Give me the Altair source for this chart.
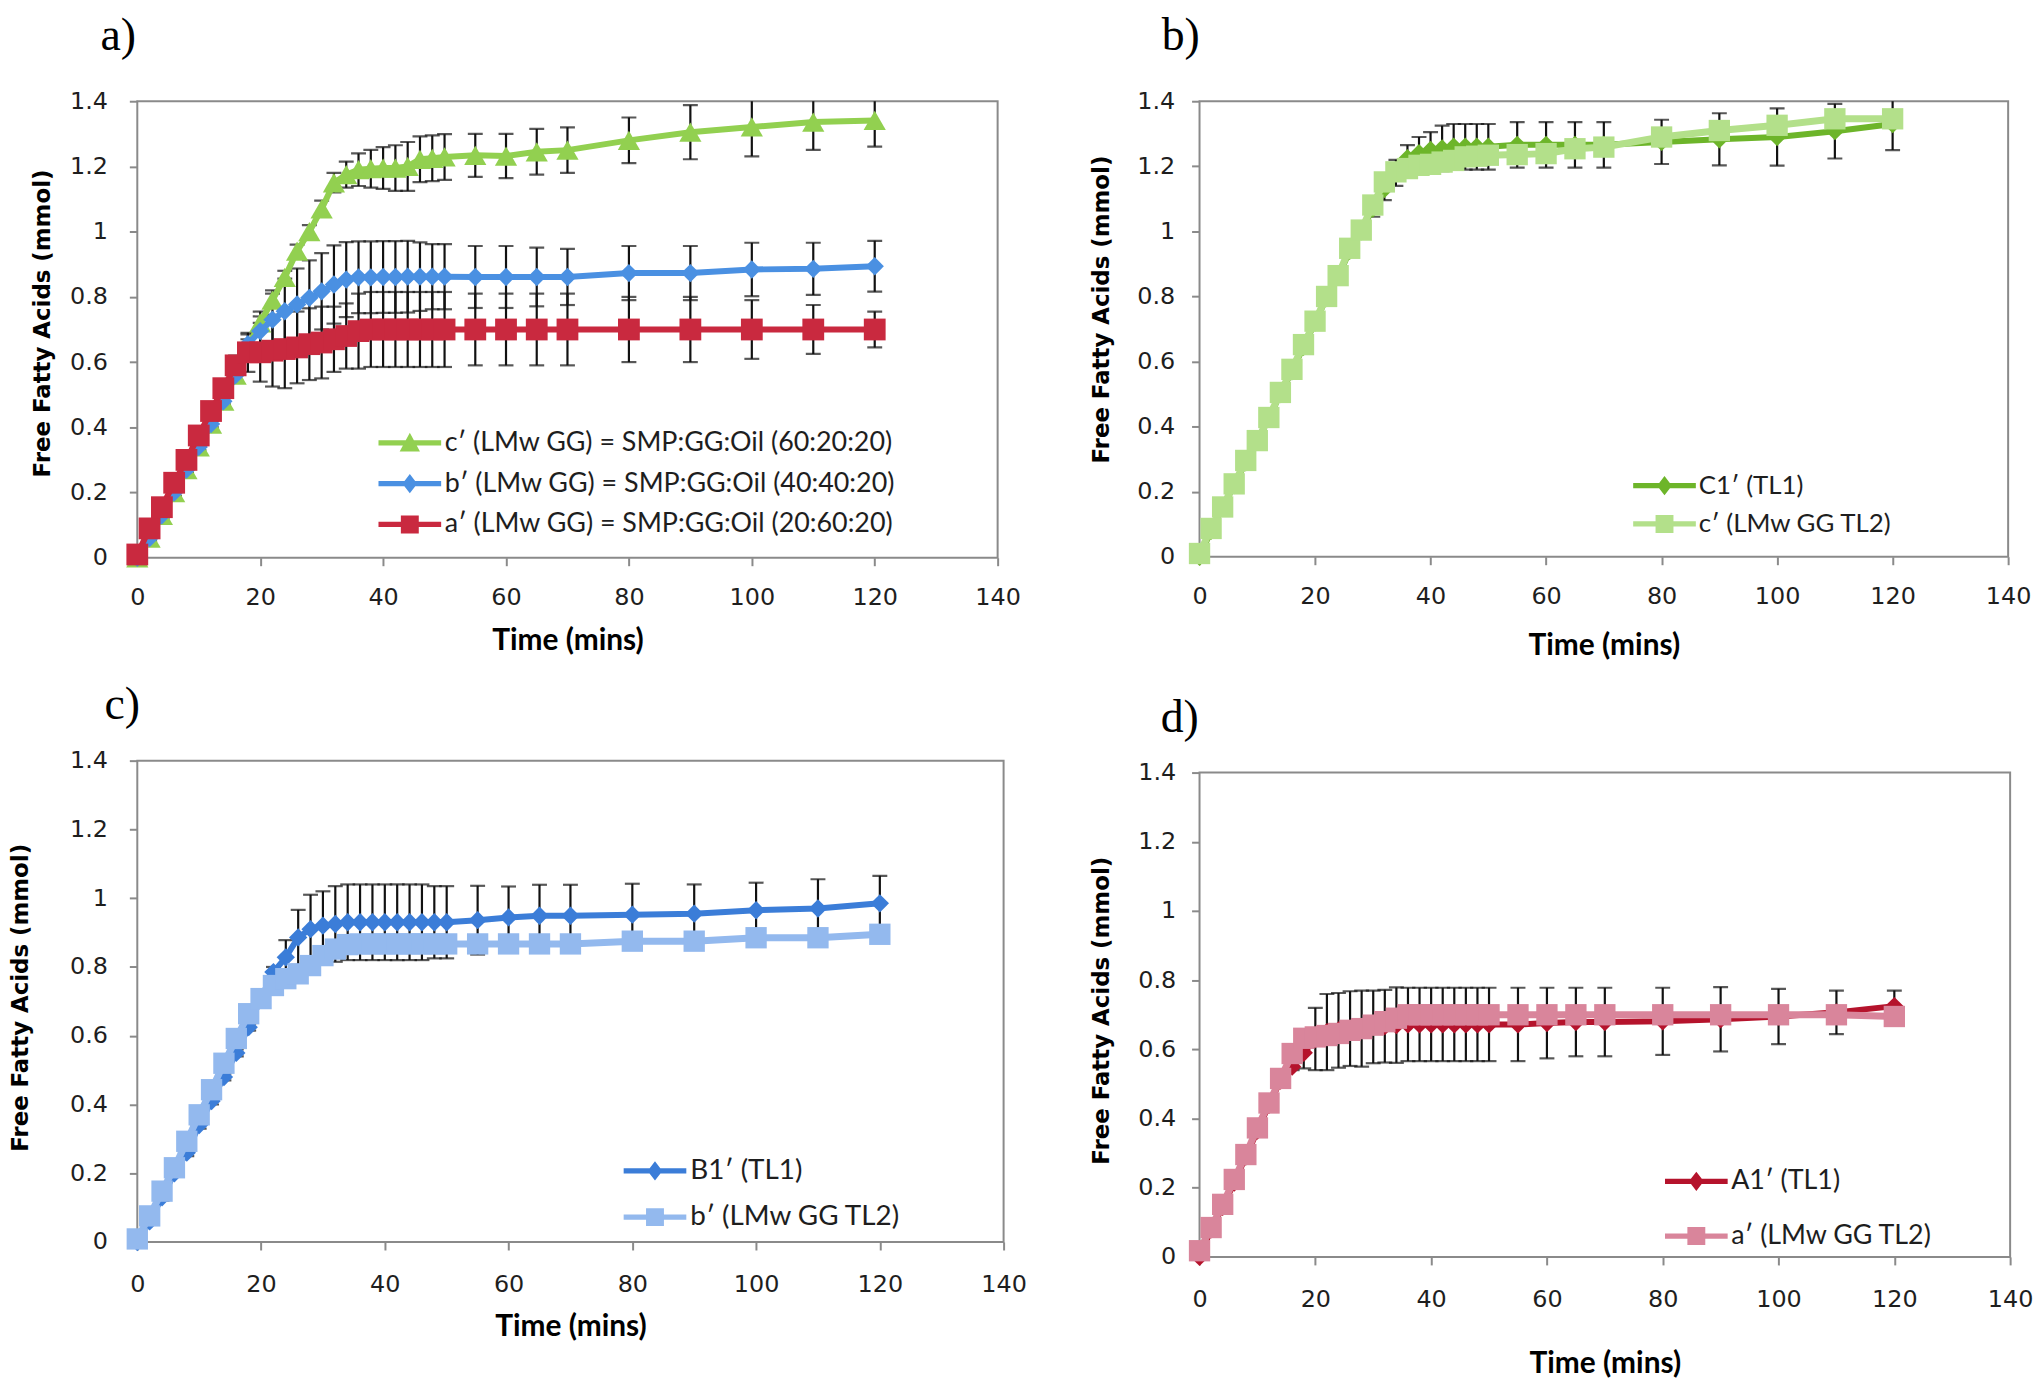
import altair as alt
import pandas as pd

# ---------------- shared axis data ----------------
TIME = [0, 2, 4, 6, 8, 10, 12, 14, 16, 18, 20, 22, 24, 26, 28, 30, 32, 34,
        36, 38, 40, 42, 44, 46, 48, 50, 55, 60, 65, 70, 80, 90, 100, 110, 120]
X_TICKS = [0, 20, 40, 60, 80, 100, 120, 140]
Y_TICKS = [0, 0.2, 0.4, 0.6, 0.8, 1.0, 1.2, 1.4]
X_DOMAIN = [0, 140]
Y_DOMAIN = [0, 1.4]
X_TITLE = "Time  (mins)"
Y_TITLE = "Free Fatty Acids  (mmol)"

# ---------------- panel a) ----------------
A_LABEL = "a)"
A_NAMES = ["c′ (LMw GG) = SMP:GG:Oil (60:20:20)",
           "b′ (LMw GG) = SMP:GG:Oil (40:40:20)",
           "a′ (LMw GG) = SMP:GG:Oil (20:60:20)"]
A_C = [0.00, 0.06, 0.13, 0.20, 0.27, 0.34, 0.41, 0.48, 0.56,
       0.65, 0.72, 0.79, 0.86, 0.94, 1.00, 1.07, 1.15, 1.175,
       1.19, 1.193, 1.195, 1.195, 1.20, 1.222, 1.225, 1.229,
       1.234, 1.232, 1.245, 1.25,
       1.28, 1.305, 1.321, 1.336, 1.341]
A_C_ERR = [0.005, 0.01, 0.01, 0.01, 0.01, 0.01, 0.01, 0.01, 0.015,
           0.02, 0.02, 0.02, 0.02, 0.02, 0.02, 0.025, 0.03, 0.04,
           0.05, 0.058, 0.064, 0.07, 0.075, 0.07, 0.07, 0.07,
           0.066, 0.068, 0.07, 0.07,
           0.07, 0.083, 0.09, 0.085, 0.08]
A_B = [0.00, 0.06, 0.13, 0.20, 0.27, 0.34, 0.41, 0.48, 0.56,
       0.655, 0.695, 0.73, 0.756, 0.777, 0.797, 0.817, 0.838, 0.853,
       0.86, 0.86, 0.861, 0.861, 0.862, 0.862, 0.862, 0.862,
       0.861, 0.861, 0.861, 0.861,
       0.873, 0.873, 0.884, 0.886, 0.894]
A_B_ERR = [0.005, 0.01, 0.01, 0.01, 0.01, 0.01, 0.01, 0.01, 0.02,
           0.03, 0.06, 0.09, 0.10, 0.11, 0.115, 0.117, 0.12, 0.115,
           0.11, 0.11, 0.11, 0.11, 0.11, 0.105, 0.10, 0.10,
           0.095, 0.095, 0.09, 0.086,
           0.083, 0.083, 0.082, 0.08, 0.078]
A_A = [0.01, 0.09, 0.155, 0.23, 0.30, 0.375, 0.45, 0.52, 0.59,
       0.63, 0.63, 0.635, 0.64, 0.645, 0.655, 0.66, 0.67, 0.68,
       0.695, 0.70, 0.70, 0.70, 0.70, 0.70, 0.70, 0.70,
       0.70, 0.70, 0.70, 0.70,
       0.70, 0.70, 0.70, 0.70, 0.70]
A_A_ERR = [0.005, 0.01, 0.01, 0.01, 0.01, 0.01, 0.01, 0.01, 0.03,
           0.06, 0.09, 0.11, 0.12, 0.11, 0.11, 0.11, 0.10, 0.10,
           0.115, 0.115, 0.115, 0.115, 0.115, 0.115, 0.115, 0.115,
           0.11, 0.11, 0.11, 0.11,
           0.10, 0.10, 0.09, 0.075, 0.055]

# ---------------- panel b) ----------------
B_LABEL = "b)"
B_NAMES = ["C1′ (TL1)", "c′ (LMw GG TL2)"]
B_C1 = [0.00, 0.08, 0.15, 0.22, 0.29, 0.355, 0.425, 0.50, 0.57,
        0.645, 0.72, 0.795, 0.86, 0.94, 1.00, 1.07, 1.13, 1.18,
        1.225, 1.24, 1.25, 1.255, 1.26, 1.26, 1.26, 1.26,
        1.266, 1.266, 1.266, 1.266,
        1.275, 1.283, 1.29, 1.308, 1.33]
B_C1_ERR = [0.005, 0.01, 0.01, 0.01, 0.01, 0.01, 0.01, 0.01, 0.01,
            0.01, 0.01, 0.01, 0.01, 0.015, 0.02, 0.025, 0.034, 0.04,
            0.04, 0.05, 0.055, 0.07, 0.07, 0.07, 0.07, 0.07,
            0.07, 0.07, 0.07, 0.07,
            0.068, 0.08, 0.088, 0.084, 0.08]
B_C2 = [0.01, 0.087, 0.153, 0.224, 0.296, 0.357, 0.428, 0.505, 0.576,
        0.652, 0.724, 0.80, 0.864, 0.948, 1.004, 1.081, 1.152, 1.183,
        1.193, 1.203, 1.206, 1.213, 1.218, 1.229, 1.231, 1.234,
        1.236, 1.239, 1.254, 1.259,
        1.29, 1.31, 1.326, 1.346, 1.346]

# ---------------- panel c) ----------------
C_LABEL = "c)"
C_NAMES = ["B1′ (TL1)", "b′ (LMw GG TL2)"]
C_B1 = [0.00, 0.06, 0.13, 0.20, 0.26, 0.34, 0.41, 0.48, 0.55,
        0.625, 0.71, 0.785, 0.828, 0.886, 0.91, 0.92, 0.925, 0.93,
        0.93, 0.93, 0.93, 0.93, 0.93, 0.93, 0.93, 0.93,
        0.936, 0.944, 0.949, 0.949,
        0.952, 0.955, 0.965, 0.97, 0.985]
C_B1_ERR = [0.005, 0.01, 0.01, 0.01, 0.01, 0.01, 0.01, 0.01, 0.01,
            0.01, 0.01, 0.015, 0.05, 0.08, 0.10, 0.10, 0.11, 0.11,
            0.11, 0.11, 0.11, 0.11, 0.11, 0.11, 0.105, 0.105,
            0.10, 0.09, 0.09, 0.09,
            0.09, 0.085, 0.08, 0.085, 0.08]
C_B2 = [0.009, 0.076, 0.148, 0.216, 0.293, 0.37, 0.443, 0.52, 0.592,
        0.664, 0.708, 0.746, 0.766, 0.78, 0.804, 0.833, 0.852, 0.865,
        0.867, 0.867, 0.867, 0.867, 0.867, 0.867, 0.867, 0.867,
        0.867, 0.867, 0.867, 0.867,
        0.875, 0.875, 0.885, 0.885, 0.895]

# ---------------- panel d) ----------------
D_LABEL = "d)"
D_NAMES = ["A1′ (TL1)", "a′ (LMw GG TL2)"]
D_A1 = [0.00, 0.08, 0.145, 0.215, 0.29, 0.365, 0.44, 0.51, 0.55,
        0.59, 0.63, 0.65, 0.655, 0.66, 0.66, 0.665, 0.667, 0.67,
        0.672, 0.672, 0.672, 0.672, 0.672, 0.672, 0.672, 0.672,
        0.672, 0.676, 0.679, 0.679,
        0.681, 0.687, 0.695, 0.707, 0.725]
D_A1_ERR = [0.005, 0.01, 0.01, 0.01, 0.01, 0.01, 0.01, 0.01, 0.01,
            0.045, 0.09, 0.11, 0.108, 0.108, 0.11, 0.105, 0.105, 0.109,
            0.106, 0.106, 0.106, 0.106, 0.106, 0.106, 0.106, 0.106,
            0.106, 0.102, 0.099, 0.099,
            0.097, 0.093, 0.08, 0.063, 0.045]
D_A2 = [0.018, 0.085, 0.152, 0.224, 0.296, 0.373, 0.445, 0.516, 0.588,
        0.632, 0.636, 0.64, 0.646, 0.655, 0.66, 0.67, 0.68, 0.69,
        0.70, 0.70, 0.70, 0.70, 0.70, 0.70, 0.70, 0.70,
        0.70, 0.70, 0.70, 0.70,
        0.70, 0.70, 0.70, 0.70, 0.695]

# ---------------- styles ----------------
GRAY = "#8a8a8a"
TXT = "#1e1e1e"
BAR = "#111111"
SANS = "Lato"
TICKFONT = "DejaVu Sans"
LINE_P = "M-2.625,-0.22H2.625V0.22H-2.625Z"
TRI_P = LINE_P + " M0,-0.85L0.85,0.72H-0.85Z"
DIA_P = LINE_P + " M0,-0.8L0.62,0L0,0.8L-0.62,0Z"
SQR_P = LINE_P + " M-0.75,-0.75H0.75V0.75H-0.75Z"


def ser(values, err, color, shape, size, lw):
    return dict(v=values, err=err, color=color, shape=shape, size=size, lw=lw)


def panel(label, label_dx, label_off, series, names, colors, paths, w, h,
          ytx, yty, xty, xpad, ypad, lx, ly, lfs, lrow):
    xaxis = alt.Axis(values=X_TICKS, format="d", labelFlush=False, labelOverlap=False,
                     grid=False, domain=False, tickSize=8, tickWidth=2, tickColor=GRAY,
                     labelFont=TICKFONT, labelFontSize=24, labelColor=TXT, labelPadding=xpad,
                     title=X_TITLE, titleFont=SANS, titleFontSize=30, titleFontWeight="bold",
                     titleColor="#000000", titleY=xty, titleBaseline="middle")
    yaxis = alt.Axis(values=Y_TICKS, format="~g", labelFlush=False, labelOverlap=False,
                     grid=False, domain=False, tickSize=8, tickWidth=2, tickColor=GRAY,
                     labelFont=TICKFONT, labelFontSize=24, labelColor=TXT, labelPadding=ypad,
                     title=Y_TITLE, titleFont="DejaVu Sans", titleFontSize=23,
                     titleFontWeight="bold", titleColor="#000000", titleX=ytx, titleY=yty,
                     titleBaseline="middle")
    xs = alt.Scale(domain=X_DOMAIN, nice=False, zero=False)
    ys = alt.Scale(domain=Y_DOMAIN, nice=False)

    def X(f):
        return alt.X(f, type="quantitative", scale=xs, axis=xaxis)

    def Y(f):
        return alt.Y(f, type="quantitative", scale=ys, axis=yaxis)

    layers = []
    for s in series:
        if s["err"] is None:
            continue
        df = pd.DataFrame({"t": TIME,
                           "lo": [v - e for v, e in zip(s["v"], s["err"])],
                           "hi": [v + e for v, e in zip(s["v"], s["err"])]})
        base = alt.Chart(df)
        layers.append(base.mark_rule(color=BAR, strokeWidth=2.2, clip=True)
                      .encode(x=X("t"), y=Y("lo"), y2="hi"))
        layers.append(base.mark_tick(orient="horizontal", size=15, thickness=2.2,
                                     color=BAR, clip=True)
                      .encode(x=X("t"), y=Y("lo")))
        layers.append(base.mark_tick(orient="horizontal", size=15, thickness=2.2,
                                     color=BAR, clip=True)
                      .encode(x=X("t"), y=Y("hi")))
    for s in series:
        df = pd.DataFrame({"t": TIME, "v": s["v"]})
        base = alt.Chart(df)
        layers.append(base.mark_line(color=s["color"], strokeWidth=s["lw"])
                      .encode(x=X("t"), y=Y("v")))
        layers.append(base.mark_point(filled=True, shape=s["shape"], size=s["size"],
                                      color=s["color"], opacity=1, strokeWidth=0)
                      .encode(x=X("t"), y=Y("v")))

    leg = alt.Legend(orient="none", legendX=lx, legendY=ly, title=None,
                     symbolSize=576, symbolStrokeWidth=0, symbolOpacity=1,
                     labelFont=SANS, labelFontSize=lfs, labelColor=TXT,
                     labelOffset=21.5, rowPadding=lrow, padding=0, labelLimit=0,
                     direction="vertical")
    ldf = pd.DataFrame({"series": names})
    layers.append(alt.Chart(ldf).mark_point(filled=True, size=0, strokeWidth=0)
                  .encode(x=alt.value(5), y=alt.value(5),
                          color=alt.Color("series:N", scale=alt.Scale(domain=names, range=colors),
                                          legend=leg),
                          shape=alt.Shape("series:N", scale=alt.Scale(domain=names, range=paths),
                                          legend=leg)))
    title = alt.TitleParams(text=label, anchor="start", frame="group",
                            font="Liberation Serif", fontSize=46, fontWeight="normal",
                            color="#000000", dx=label_dx, offset=label_off,
                            baseline="alphabetic")
    return alt.layer(*layers).properties(width=w, height=h, title=title)


GREEN, BLUE, RED = "#92d050", "#4a90e2", "#c9293f"
pa = panel(A_LABEL, -37, -6,
           [ser(A_C, A_C_ERR, GREEN, "triangle-up", 500, 6),
            ser(A_B, A_B_ERR, BLUE, "diamond", 340, 6),
            ser(A_A, A_A_ERR, RED, "square", 480, 6)],
           A_NAMES, [GREEN, BLUE, RED], [TRI_P, DIA_P, SQR_P],
           865, 459, -95, 223, 83, 20, 22, 260.5, 330, 27, 13)

DKG, LTG = "#6db52a", "#b3e08a"
pb = panel(B_LABEL, -38, -6,
           [ser(B_C1, B_C1_ERR, DKG, "diamond", 340, 6),
            ser(B_C2, None, LTG, "square", 460, 7)],
           B_NAMES, [DKG, LTG], [DIA_P, SQR_P],
           813, 458, -99, 209, 89, 20, 17, 454.5, 373.5, 26, 12.5)

DKB, LTB = "#3b7dd8", "#93b9ee"
pc = panel(C_LABEL, -33, -16,
           [ser(C_B1, C_B1_ERR, DKB, "diamond", 340, 6),
            ser(C_B2, None, LTB, "square", 460, 7)],
           C_NAMES, [DKB, LTB], [DIA_P, SQR_P],
           871, 484, -117, 238, 85, 23, 22, 506.5, 398.5, 28, 18.5)

DKR, PNK = "#b5132c", "#d9859b"
pd_ = panel(D_LABEL, -39, -17,
            [ser(D_A1, D_A1_ERR, DKR, "diamond", 340, 6),
             ser(D_A2, None, PNK, "square", 460, 7)],
            D_NAMES, [DKR, PNK], [DIA_P, SQR_P],
            815, 487, -99, 239, 107, 23, 16, 486, 397.5, 27, 27)

left = alt.vconcat(pa, pc, spacing=25).resolve_scale(color="independent", shape="independent")
right = alt.vconcat(pb, pd_, spacing=33).resolve_scale(color="independent", shape="independent")
chart = (alt.hconcat(left, right, spacing=61)
         .resolve_scale(color="independent", shape="independent")
         .configure_view(stroke=GRAY, strokeWidth=2)
         .properties(padding=0, background="white"))

chart.save("out.html", embed_options={"renderer": "svg", "actions": False})
